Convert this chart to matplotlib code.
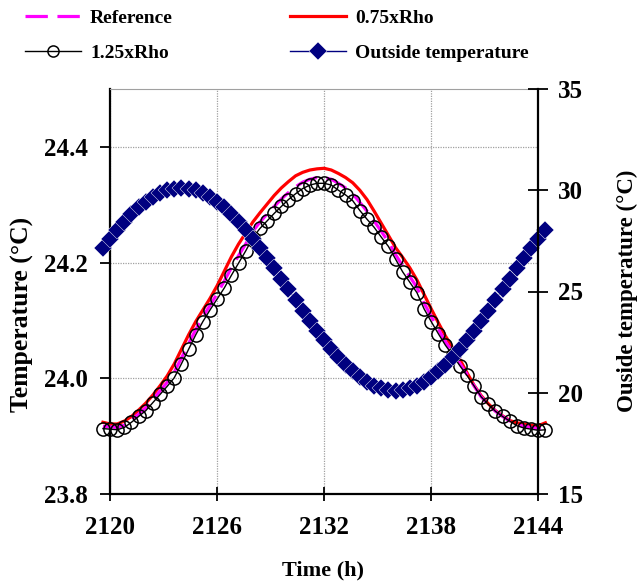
import matplotlib

matplotlib.use("Agg")
import matplotlib.pyplot as plt
import numpy as np
from matplotlib.ticker import FormatStrFormatter

plt.rcParams["font.family"] = ["Liberation Serif", "DejaVu Serif"]
plt.rcParams["font.weight"] = "bold"

# samples every 0.4 h, lines run a little past both axis ends
time_h = np.arange(2119.6, 2144.41, 0.4)

reference = [
    23.917, 23.916, 23.915, 23.919, 23.928, 23.938, 23.949, 23.963, 23.978, 23.993,
    24.011, 24.035, 24.060, 24.084, 24.106, 24.126, 24.146, 24.168, 24.191, 24.212,
    24.232, 24.254, 24.270, 24.284, 24.297, 24.310, 24.321, 24.331, 24.339, 24.344,
    24.347, 24.347, 24.344, 24.337, 24.329, 24.319, 24.304, 24.289, 24.272, 24.254,
    24.236, 24.214, 24.194, 24.176, 24.157, 24.130, 24.107, 24.085, 24.063, 24.045,
    24.026, 24.007, 23.987, 23.968, 23.955, 23.943, 23.934, 23.926, 23.920, 23.917,
    23.915, 23.913, 23.916,
]
rho_075 = [
    23.924, 23.921, 23.921, 23.926, 23.934, 23.945, 23.957, 23.971, 23.987, 24.004,
    24.025, 24.050, 24.075, 24.098, 24.118, 24.138, 24.160, 24.185, 24.210, 24.232,
    24.251, 24.270, 24.286, 24.301, 24.316, 24.329, 24.340, 24.350, 24.356, 24.360,
    24.362, 24.363, 24.360, 24.354, 24.347, 24.338, 24.325, 24.309, 24.289, 24.268,
    24.247, 24.226, 24.209, 24.191, 24.170, 24.145, 24.120, 24.096, 24.073, 24.053,
    24.033, 24.010, 23.988, 23.970, 23.956, 23.944, 23.935, 23.927, 23.923, 23.921,
    23.919, 23.918, 23.923,
]
rho_125 = [
    23.913, 23.912, 23.911, 23.915, 23.924, 23.934, 23.944, 23.958, 23.972, 23.986,
    24.001, 24.025, 24.050, 24.075, 24.098, 24.118, 24.137, 24.156, 24.178, 24.199,
    24.220, 24.243, 24.259, 24.272, 24.285, 24.297, 24.309, 24.319, 24.328, 24.334,
    24.337, 24.337, 24.334, 24.325, 24.317, 24.307, 24.290, 24.275, 24.261, 24.244,
    24.228, 24.206, 24.184, 24.166, 24.148, 24.120, 24.098, 24.077, 24.057, 24.040,
    24.022, 24.005, 23.987, 23.968, 23.955, 23.943, 23.934, 23.926, 23.918, 23.914,
    23.912, 23.910, 23.911,
]
outside = [
    27.13, 27.60, 28.04, 28.45, 28.82, 29.15, 29.43, 29.67, 29.86, 29.99,
    30.07, 30.10, 30.07, 29.99, 29.86, 29.67, 29.43, 29.15, 28.82, 28.45,
    28.04, 27.60, 27.13, 26.65, 26.14, 25.62, 25.10, 24.58, 24.06, 23.55,
    23.07, 22.60, 22.16, 21.75, 21.38, 21.05, 20.77, 20.53, 20.34, 20.21,
    20.13, 20.10, 20.13, 20.21, 20.34, 20.53, 20.77, 21.05, 21.38, 21.75,
    22.16, 22.60, 23.07, 23.55, 24.06, 24.58, 25.10, 25.62, 26.14, 26.65,
    27.13, 27.60, 28.04,
]

x_ticks = [2120, 2126, 2132, 2138, 2144]
left_ticks = [23.8, 24.0, 24.2, 24.4]
right_ticks = [15, 20, 25, 30, 35]

fig = plt.figure(figsize=(6.4, 5.83), dpi=100)
ax = fig.add_axes([0.172, 0.1527, 0.669, 0.6946])
ax2 = ax.twinx()

l_75, = ax.plot(time_h, rho_075, color="red", lw=2.3, clip_on=False, zorder=3)
l_ref, = ax.plot(time_h, reference, color="#ff00ff", lw=2.3, dashes=(7, 3),
                 clip_on=False, zorder=4)
l_125, = ax.plot(time_h, rho_125, color="black", lw=1.0, marker="o", ms=9.5,
                 mfc="none", mew=1.1, clip_on=False, zorder=5)
l_out, = ax2.plot(time_h, outside, color="#000080", lw=1.0, marker="D", ms=9,
                  mec="white", mew=0.3, clip_on=False)

ax.set_xlim(2120, 2144)
ax.set_ylim(23.8, 24.5)
ax.set_xticks(x_ticks)
ax.set_yticks(left_ticks)
ax.yaxis.set_major_formatter(FormatStrFormatter("%.1f"))
ax2.set_ylim(15, 35)
ax2.set_yticks(right_ticks)

ax.grid(True, color="#a0a0a0", linestyle=(0, (1, 1)), lw=0.9)
ax.set_axisbelow(True)

for s in ["left", "bottom"]:
    ax.spines[s].set_linewidth(1.6)
ax.spines["right"].set_visible(False)
ax.spines["top"].set_color("#a0a0a0")
ax.spines["top"].set_linewidth(0.8)
for s in ["left", "bottom", "top"]:
    ax2.spines[s].set_visible(False)
ax2.spines["right"].set_linewidth(1.6)

ax.tick_params(axis="y", direction="out", length=7, width=1.3, pad=9, labelsize=18)
ax.tick_params(axis="x", direction="inout", length=10, width=1.3, pad=11, labelsize=18)
ax2.tick_params(axis="y", direction="inout", length=14, width=1.3, pad=7, labelsize=18)

fig.text(323 / 640, 1 - 570 / 583, "Time (h)", ha="center", va="center", fontsize=16)
fig.text(22 / 640, 1 - 314 / 583, "Temperature (\u00b0C)", ha="center", va="center",
         rotation=90, fontsize=18.5)
fig.text(627 / 640, 1 - 291 / 583, "Ouside temperature (\u00b0C)", ha="center",
         va="center", rotation=90, fontsize=16.5)

leg = fig.legend(handles=[l_ref, l_125, l_75, l_out],
                 labels=["Reference", "1.25xRho", "0.75xRho", "Outside temperature"],
                 ncol=2, loc="upper left", bbox_to_anchor=(25 / 640, 1 - 9 / 583),
                 frameon=False, fontsize=14, handlelength=2.9, handletextpad=0.45,
                 columnspacing=6.0, labelspacing=0.9, borderpad=0, borderaxespad=0)
leg.legend_handles[1].set_markersize(8)
leg.legend_handles[3].set_markersize(9.5)

fig.savefig("out.png", dpi=100)
